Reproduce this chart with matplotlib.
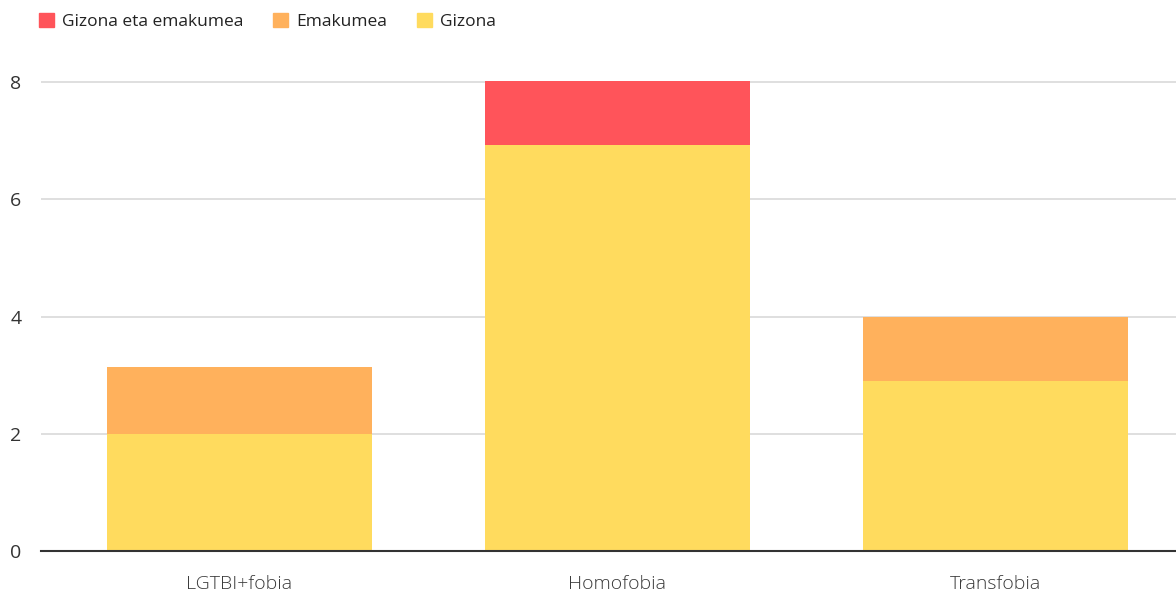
import matplotlib
matplotlib.use("Agg")
import matplotlib.pyplot as plt
import matplotlib.patches as mpatches
import numpy as np

plt.rcParams["font.family"] = ["Open Sans", "DejaVu Sans"]

categories = ["LGTBI+fobia", "Homofobia", "Transfobia"]
gizona = [2.0, 6.93, 2.9]
emakumea = [1.14, 0.0, 1.1]
gizona_eta_emakumea = [0.0, 1.09, 0.0]

series_names = ["Gizona eta emakumea", "Emakumea", "Gizona"]
colors = {"Gizona": "#FFDB5E", "Emakumea": "#FFB15C", "Gizona eta emakumea": "#FF545A"}

fig = plt.figure(figsize=(11.76, 5.98), dpi=100)
ax = fig.add_axes([41 / 1176, 1 - 551 / 598, 1 - 41 / 1176, (551 - 76.2) / 598])

x = np.arange(len(categories))
w = 0.70
bottom = np.zeros(len(categories))
for name, vals in [("Gizona", gizona), ("Emakumea", emakumea),
                   ("Gizona eta emakumea", gizona_eta_emakumea)]:
    vals = np.array(vals)
    ax.bar(x, vals, width=w, bottom=bottom, color=colors[name], linewidth=0, zorder=2)
    bottom += vals

ax.set_xlim(-0.525, 2.478)
ax.set_ylim(0, 8.1)
ax.set_yticks([0, 2, 4, 6, 8])
ax.grid(axis="y", color="#d9d9d9", linewidth=1.2, zorder=1)
ax.set_axisbelow(True)
for s in ["top", "right", "left"]:
    ax.spines[s].set_visible(False)
ax.spines["bottom"].set_color("#333333")
ax.spines["bottom"].set_linewidth(1.5)
ax.spines["bottom"].set_zorder(3)
ax.set_xticks(x)
ax.set_xticklabels(categories, fontsize=14, color="#3a3a3a", fontweight="light")
ax.tick_params(axis="x", length=0, pad=17)
ax.tick_params(axis="y", length=0, pad=14, labelsize=14, labelcolor="#333333")

handles = [mpatches.Patch(color=colors[n], label=n) for n in series_names]
fig.legend(handles=handles, loc="upper left", bbox_to_anchor=(0.02, 1.004), ncol=3,
           frameon=False, fontsize=12.5, handlelength=0.85, handleheight=0.85,
           handletextpad=0.45, columnspacing=1.75, labelcolor="#222222")

fig.savefig("out.png", dpi=100)
